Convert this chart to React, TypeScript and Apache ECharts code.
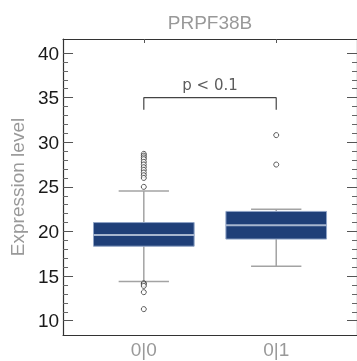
import React, { useEffect, useRef } from 'react';
import * as echarts from 'echarts';

const title = 'PRPF38B';
const yName = 'Expression level';
const categories = ['0|0', '0|1'];
// [category index, lower whisker, Q1, median, Q3, upper whisker]
const boxStats = [
  [0, 14.4, 18.35, 19.6, 21.0, 24.55],
  [1, 16.1, 19.15, 20.7, 22.25, 22.5],
];
const outliers0 = [28.7, 28.5, 28.3, 28.1, 27.8, 27.5, 27.2, 26.9, 26.6, 26.3, 26.0, 25.0, 14.2, 14.1, 13.9, 13.2, 11.3];
const outliers1 = [30.8, 27.5];
const majorTicks = [10, 15, 20, 25, 30, 35, 40];
const minorTicks = [11, 12, 13, 14, 16, 17, 18, 19, 21, 22, 23, 24, 26, 27, 28, 29, 31, 32, 33, 34, 36, 37, 38, 39];
const bracket = [[0, 33.65], [0, 35], [1, 35], [1, 33.65]];
const pText = 'p < 0.1';
const pPos = [0.5, 36.4];

const Y_MIN = 8.4;
const Y_MAX = 41.57;
const X_MIN = -0.61;
const X_MAX = 1.61;
const BOX_W = 0.76;
const CAP_W = 0.38;
const FONT = '"Liberation Sans", Arial, sans-serif';

export default function App() {
  const ref = useRef<HTMLDivElement>(null);
  useEffect(() => {
    if (!ref.current) return;
    const chart = echarts.init(ref.current, undefined, { renderer: 'svg' });
    const yCommon = { type: 'value', min: Y_MIN, max: Y_MAX, splitLine: { show: false } };
    const outlierData = [
      ...outliers0.map((v) => [0, v]),
      ...outliers1.map((v) => [1, v]),
    ];
    const lineMain = { show: true, onZero: false, lineStyle: { color: '#333', width: 1.2 } };
    chart.setOption({
      animation: false,
      grid: { left: 62, top: 39, width: 296, height: 296 },
      xAxis: [
        {
          type: 'value', position: 'bottom', min: X_MIN, max: X_MAX,
          splitLine: { show: false },
          axisLine: lineMain,
          axisTick: { show: false },
          axisLabel: {
            customValues: [0, 1],
            formatter: (v: number) => categories[Math.round(v)],
            color: '#999', fontSize: 19, margin: 5, fontFamily: FONT,
          },
        },
        {
          type: 'value', position: 'top', min: X_MIN, max: X_MAX,
          splitLine: { show: false },
          axisLine: lineMain,
          axisTick: { show: true, inside: true, length: 4, customValues: [0, 1], lineStyle: { color: '#555' } },
          axisLabel: { show: false },
          name: title, nameLocation: 'middle', nameGap: 7,
          nameTextStyle: { color: '#999', fontSize: 19, fontFamily: FONT },
        },
      ],
      yAxis: [
        {
          ...yCommon, position: 'left',
          axisLine: lineMain,
          axisTick: { show: true, inside: true, length: 10, customValues: majorTicks, lineStyle: { color: '#555' } },
          axisLabel: { customValues: majorTicks, color: '#1a1a1a', fontSize: 19, margin: 4, fontFamily: FONT },
          name: yName, nameLocation: 'middle', nameGap: 33,
          nameTextStyle: { color: '#999', fontSize: 19, fontFamily: FONT },
        },
        {
          ...yCommon, position: 'left',
          axisLine: { show: false, onZero: false },
          axisTick: { show: true, inside: true, length: 5, customValues: minorTicks, lineStyle: { color: '#666' } },
          axisLabel: { show: false },
        },
        {
          ...yCommon, position: 'right',
          axisLine: lineMain,
          axisTick: { show: true, inside: true, length: 10, customValues: majorTicks, lineStyle: { color: '#555' } },
          axisLabel: { show: false },
        },
        {
          ...yCommon, position: 'right',
          axisLine: { show: false, onZero: false },
          axisTick: { show: true, inside: true, length: 5, customValues: minorTicks, lineStyle: { color: '#666' } },
          axisLabel: { show: false },
        },
      ],
      series: [
        {
          type: 'custom',
          xAxisIndex: 0, yAxisIndex: 0,
          data: boxStats,
          encode: { x: 0, y: [1, 2, 3, 4, 5] },
          renderItem: (params: any, api: any) => {
            const x = api.value(0);
            const lo = api.coord([x, api.value(1)]);
            const q1 = api.coord([x, api.value(2)]);
            const med = api.coord([x, api.value(3)]);
            const q3 = api.coord([x, api.value(4)]);
            const hi = api.coord([x, api.value(5)]);
            const hw = api.size([BOX_W, 0])[0] / 2;
            const cw = api.size([CAP_W, 0])[0] / 2;
            const wStyle = { stroke: '#a3a3a3', lineWidth: 1.5 };
            return {
              type: 'group',
              children: [
                { type: 'line', shape: { x1: lo[0], y1: lo[1], x2: q1[0], y2: q1[1] }, style: wStyle },
                { type: 'line', shape: { x1: q3[0], y1: q3[1], x2: hi[0], y2: hi[1] }, style: wStyle },
                { type: 'line', shape: { x1: lo[0] - cw, y1: lo[1], x2: lo[0] + cw, y2: lo[1] }, style: wStyle },
                { type: 'line', shape: { x1: hi[0] - cw, y1: hi[1], x2: hi[0] + cw, y2: hi[1] }, style: wStyle },
                {
                  type: 'rect',
                  shape: { x: q3[0] - hw, y: q3[1], width: hw * 2, height: q1[1] - q3[1] },
                  style: { fill: '#1f3f78', stroke: '#8fa3c6', lineWidth: 1 },
                },
                {
                  type: 'line',
                  shape: { x1: med[0] - hw, y1: med[1], x2: med[0] + hw, y2: med[1] },
                  style: { stroke: '#a7b6cf', lineWidth: 2 },
                },
              ],
            };
          },
          z: 2,
        },
        {
          type: 'scatter',
          xAxisIndex: 0, yAxisIndex: 0,
          data: outlierData,
          symbol: 'circle', symbolSize: 5,
          itemStyle: { color: '#fff', borderColor: '#333', borderWidth: 1 },
          z: 3,
        },
        {
          type: 'line',
          xAxisIndex: 0, yAxisIndex: 0,
          data: bracket,
          symbol: 'none',
          lineStyle: { color: '#444', width: 1.2 },
        },
        {
          type: 'scatter',
          xAxisIndex: 0, yAxisIndex: 0,
          data: [pPos],
          symbolSize: 1,
          itemStyle: { color: 'transparent' },
          label: {
            show: true, position: 'inside', formatter: pText,
            color: '#333', fontSize: 15, fontFamily: '"DejaVu Sans", sans-serif',
          },
        },
      ],
    });
    return () => chart.dispose();
  }, []);
  return <div ref={ref} style={{ position: 'fixed', left: 0, top: 0, width: 357, height: 361 }} />;
}
